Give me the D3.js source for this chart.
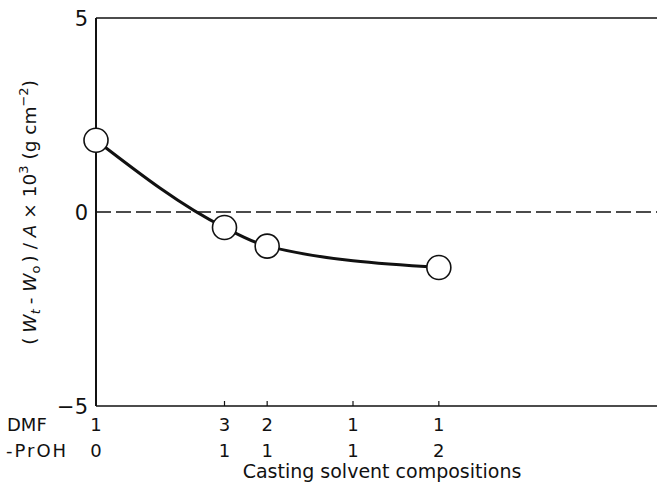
<!DOCTYPE html>
<html>
<head>
<meta charset="utf-8">
<script src="https://cdn.jsdelivr.net/npm/d3@7"></script>
<style>
  body { margin: 0; background: #fff; }
  text { font-family: "DejaVu Sans", sans-serif; fill: #111; }
</style>
</head>
<body>
<svg width="657" height="482"></svg>
<script>
// set data

const propanolFraction = [0, 0.25, 0.333, 0.5, 0.667];
const dmfParts = ["1", "3", "2", "1", "1"];
const proHParts = ["0", "1", "1", "1", "2"];

const pointFraction = [0, 0.25, 0.333, 0.667];
const weightChange = [1.85, -0.40, -0.88, -1.43];

const yTicks = [5, 0, -5];

const points = pointFraction.map((f, i) => ({ f: f, v: weightChange[i] }));

// dimensions

const width = 657, height = 482;
const plotLeft = 96, plotTop = 18, plotBottom = 406;

const svg = d3.select("svg");

// scales

const x = d3.scaleLinear()
            .domain([0, 1])
            .range([plotLeft, 610]);

const y = d3.scaleLinear()
            .domain([-5, 5])
            .range([plotBottom, plotTop]);

// frame

svg.append("line")
   .attr("x1", plotLeft).attr("x2", plotLeft)
   .attr("y1", plotTop).attr("y2", plotBottom)
   .attr("stroke", "#111").attr("stroke-width", 2);

svg.selectAll(".hline")
   .data([5, -5])
   .enter()
   .append("line")
   .attr("x1", plotLeft).attr("x2", width)
   .attr("y1", d => y(d)).attr("y2", d => y(d))
   .attr("stroke", "#111").attr("stroke-width", 1.6);

// zero line

svg.append("line")
   .attr("x1", plotLeft).attr("x2", width)
   .attr("y1", y(0)).attr("y2", y(0))
   .attr("stroke", "#111").attr("stroke-width", 1.6)
   .attr("stroke-dasharray", "15,5");

// y tick labels

svg.selectAll(".ylab")
   .data(yTicks)
   .enter()
   .append("text")
   .attr("x", plotLeft - 8)
   .attr("y", d => y(d))
   .attr("dy", "0.36em")
   .attr("text-anchor", "end")
   .attr("font-size", 21)
   .text(d => d < 0 ? "\u2212" + Math.abs(d) : d);

// bottom ticks

svg.selectAll(".xtick")
   .data(propanolFraction.slice(1))
   .enter()
   .append("line")
   .attr("x1", d => x(d)).attr("x2", d => x(d))
   .attr("y1", plotBottom).attr("y2", plotBottom - 5)
   .attr("stroke", "#111").attr("stroke-width", 1.2);

// composition labels

svg.append("text")
   .attr("x", 7).attr("y", 431)
   .attr("font-size", 18)
   .text("DMF");

svg.append("text")
   .attr("x", 6).attr("y", 457)
   .attr("font-size", 18)
   .attr("letter-spacing", 2)
   .text("-PrOH");

svg.selectAll(".dmf")
   .data(propanolFraction)
   .enter()
   .append("text")
   .attr("x", d => x(d))
   .attr("y", 431)
   .attr("text-anchor", "middle")
   .attr("font-size", 18)
   .text((d, i) => dmfParts[i]);

svg.selectAll(".proh")
   .data(propanolFraction)
   .enter()
   .append("text")
   .attr("x", d => x(d))
   .attr("y", 457)
   .attr("text-anchor", "middle")
   .attr("font-size", 18)
   .text((d, i) => proHParts[i]);

svg.append("text")
   .attr("x", 382).attr("y", 478)
   .attr("text-anchor", "middle")
   .attr("font-size", 19)
   .text("Casting solvent compositions");

// y axis title

const ylab = svg.append("text")
   .attr("transform", `translate(36,${(85 + 340) / 2}) rotate(-90)`)
   .attr("text-anchor", "middle")
   .attr("font-size", 18.5);

ylab.append("tspan").text("(");
ylab.append("tspan").attr("font-style", "italic").attr("dx", 5).text("W");
ylab.append("tspan").attr("font-style", "italic").attr("font-size", 13).attr("dy", 4).text("t");
ylab.append("tspan").attr("dy", -4).attr("dx", 5).text("- ");
ylab.append("tspan").attr("font-style", "italic").text("W");
ylab.append("tspan").attr("font-size", 13).attr("dy", 4).text("o");
ylab.append("tspan").attr("dy", -4).attr("dx", 3).text(") / ");
ylab.append("tspan").attr("font-style", "italic").text("A");
ylab.append("tspan").text(" \u00d7 10");
ylab.append("tspan").attr("font-size", 13).attr("dy", -8).text("3");
ylab.append("tspan").attr("dy", 8).text(" (g cm");
ylab.append("tspan").attr("font-size", 13).attr("dy", -8).text("\u22122");
ylab.append("tspan").attr("dy", 8).text(")");

// curve

const line = d3.line()
               .x(d => x(d.f))
               .y(d => y(d.v))
               .curve(d3.curveMonotoneX);

svg.append("path")
   .datum(points)
   .attr("d", line)
   .attr("fill", "none")
   .attr("stroke", "#111")
   .attr("stroke-width", 3);

// points

svg.selectAll(".pt")
   .data(points)
   .enter()
   .append("circle")
   .attr("cx", d => x(d.f))
   .attr("cy", d => y(d.v))
   .attr("r", 12)
   .attr("fill", "#fff")
   .attr("stroke", "#111")
   .attr("stroke-width", 1.6);
</script>
</body>
</html>
